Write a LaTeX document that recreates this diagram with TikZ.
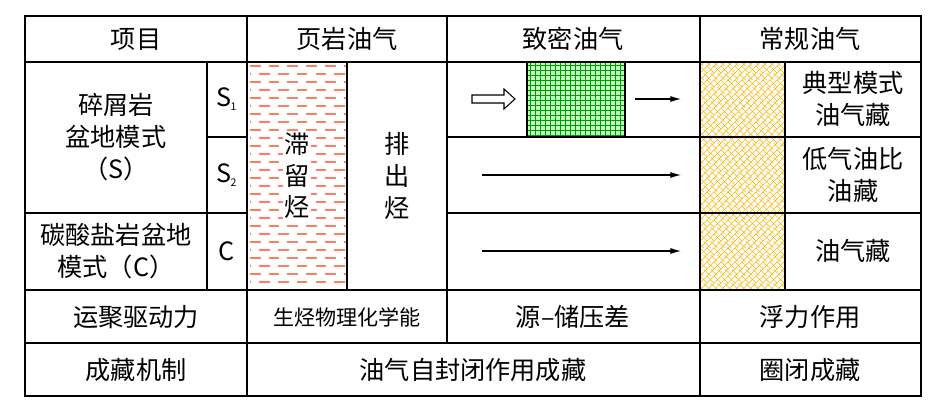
\documentclass[tikz,border=0pt]{standalone}
\usepackage{fontspec}
\setmainfont{Noto Sans CJK SC}
\usepackage{tikz}
\usetikzlibrary{arrows.meta}

\tikzset{
  cell/.style={font=\fontsize{21.5}{27}\selectfont, align=center, inner sep=0pt},
  sub/.style={font=\fontsize{18}{22}\selectfont},
  flow/.style={-{Latex[length=9pt,width=5pt]}, line width=0.9pt},
}

\begin{document}
\begin{tikzpicture}[x=0.3mm, y=-0.3mm, line width=1.1pt]
	\useasboundingbox (0,0) rectangle (945,412);
	
	% Patterns: shale dashes
	\begin{scope}
		\clip (247,62) rectangle (347,290);
		\foreach \i in {0,...,28} {
			\pgfmathsetmacro{\yy}{66+8*\i}
			\pgfmathsetmacro{\off}{mod(\i,2)*8}
			\draw[red!70!orange!60, line width=1pt, dash pattern=on 9pt off 7pt, dash phase=\off pt] (250,\yy) -- (347,\yy);
		}
	\end{scope}
	
	% Tight: green grid
	\fill[green!25!white] (527,62) rectangle (625,137);
	\foreach \gx in {530,535,...,625} \draw[green!60!black, line width=0.5pt] (\gx,62) -- (\gx,137);
	\foreach \gy in {65,70,...,137} \draw[green!60!black, line width=0.5pt] (527,\gy) -- (625,\gy);
	
	% Conventional: yellow bricks
	\begin{scope}
		\clip (700,62) rectangle (785,290);
		\foreach \k in {-40,...,20} {
			\draw[orange!60!yellow, line width=0.5pt] (700+7*\k,290) -- (700+7*\k+240,50);
		}
		\foreach \k in {-40,...,20}
			\foreach \j in {0,...,34} {
				\pgfmathsetmacro{\bx}{700+7*\k+7*\j+3.5*mod(\j,2)}
				\pgfmathsetmacro{\by}{290-7*\j}
				\draw[orange!60!yellow, line width=0.5pt] (\bx,\by) -- ++(7,7);
			}
	\end{scope}
	
	% Grid lines
	\draw (25,16) rectangle (921,396);
	\foreach \yy in {62,290,343} \draw (25,\yy) -- (921,\yy);
	\draw (207,137) -- (247,137);
	\draw (447,137) -- (921,137);
	\draw (25,213) -- (247,213);
	\draw (447,213) -- (921,213);
	\draw (247,16) -- (247,396);
	\draw (700,16) -- (700,396);
	\draw (447,16) -- (447,343);
	\draw (207,62) -- (207,290);
	\draw (347,62) -- (347,290);
	\draw (785,62) -- (785,290);
	\draw (527,62) rectangle (625,137);
	
	% Header
	\node[cell] (hItem) at (136,39) {项目};
	\node[cell] (hShale) at (347,39) {页岩油气};
	\node[cell] (hTight) at (573,39) {致密油气};
	\node[cell] (hConv) at (810,39) {常规油气};
	
	% Left column
	\node[cell, text width=170] (clastic) at (116,137) {碎屑岩\\盆地模式\\（S）};
	\node[cell, text width=190] (carb) at (116,251) {碳酸盐岩盆地\\模式（C）};
	\node[cell] (sOne) at (227,99) {S\textsubscript{\kern-1pt\small 1}};
	\node[cell] (sTwo) at (227,175) {S\textsubscript{\kern-1pt\small 2}};
	\node[cell] (cC) at (227,251) {C};
	
	% Shale texts
	\node[cell, fill=white, text width=22, inner sep=1pt] (retained) at (297,176) {滞\\留\\烃};
	\node[cell, text width=22] (expelled) at (397,176) {排\\出\\烃};
	
	% Conventional texts
	\node[cell] (typical) at (853,99) {典型模式\\油气藏};
	\node[cell] (lowGOR) at (853,175) {低气油比\\油藏};
	\node[cell] (oilgas) at (853,251) {油气藏};
	
	% Arrows in tight column
	\draw[line width=0.9pt, fill=white] (472,95) -- (504,95) -- (504,89) -- (515,99) -- (504,109) -- (504,103) -- (472,103) -- cycle;
	\coordinate (aOneS) at (635,99);
	\coordinate (aOneE) at (681,99);
	\coordinate (aTwoS) at (482,175);
	\coordinate (aTwoE) at (681,175);
	\coordinate (aThrS) at (482,251);
	\coordinate (aThrE) at (681,251);
	\draw[flow] (aOneS) -- (aOneE);
	\draw[flow] (aTwoS) -- (aTwoE);
	\draw[flow] (aThrS) -- (aThrE);
	
	% Bottom rows
	\node[cell] (drive) at (136,317) {运聚驱动力};
	\node[cell, sub] (energy) at (347,317) {生烃物理化学能};
	\node[cell] (pdiff) at (573,317) {源–储压差};
	\node[cell] (buoy) at (810,317) {浮力作用};
	\node[cell] (mech) at (136,370) {成藏机制};
	\node[cell] (self) at (473,370) {油气自封闭作用成藏};
	\node[cell] (trap) at (810,370) {圈闭成藏};
\end{tikzpicture}
\end{document}
